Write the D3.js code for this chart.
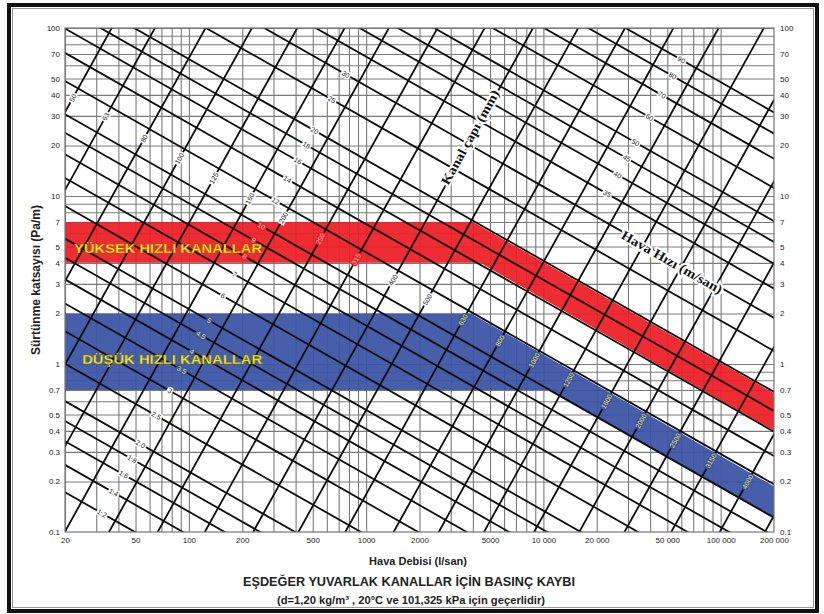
<!DOCTYPE html>
<html><head><meta charset="utf-8">
<script src="https://cdn.jsdelivr.net/npm/d3@7"></script>
<style>body{margin:0;background:#fff}svg{display:block}</style>
</head><body><svg id="c" width="824" height="614"></svg>
<script>
// ---------- DATA ----------
const xTicks = [20,50,100,200,500,1000,2000,5000,10000,20000,50000,100000,200000];
const xTickLabels = ["20","50","100","200","500","1000","2000","5000","10 000","20 000","50 000","100 000","200 000"];
const yTicks = [100,70,50,40,30,20,10,7,5,4,3,2,1,0.7,0.5,0.4,0.3,0.2,0.1];
const yTickLabels = ["100","70","50","40","30","20","10","7","5","4","3","2","1","0.7","0.5","0.4","0.3","0.2","0.1"];

// Duct diameter lines (mm): flow (l/s) where each line crosses 1 Pa/m; slope of the family on log-log
const diameters  = [50, 63, 80, 100, 125, 160, 200, 250, 315, 400, 500, 630, 800, 1000, 1250, 1600, 2000, 2500, 3150, 4000, 5000];
const diameterQ1 = [3.25, 5.7, 11.0, 20.1, 36.2, 67, 119, 224, 413, 774, 1393, 2560, 4800, 8630, 15530, 29740, 53520, 96290, 176900, 331700, 596800];
const diameterSlope = 1.9;

// Air velocity lines (m/s): friction (Pa/m) where each line crosses 1000 l/s; slope of the family on log-log
const velocities = [1.2, 1.4, 1.6, 1.8, 2.0, 2.5, 3, 3.5, 4, 4.5, 5, 6, 7, 8, 9, 10, 12, 14, 16, 18, 20, 25, 30, 35, 40, 45, 50, 60, 70, 80, 90];
const velocityLabels = ["1.2","1.4","1.6","1.8","2.0","2.5","3","3.5","4","4.5","5","6","7","8","9","10","12","14","16","18","20","25","30","35","40","45","50","60","70","80","90"];
const velocityP1000 = [0.0165, 0.0240, 0.0332, 0.0438, 0.0575, 0.096, 0.150, 0.219, 0.305, 0.410, 0.533, 0.833, 1.225, 1.694, 2.273, 2.93, 4.62, 6.80, 9.49, 12.61, 16.4, 28.7, 45.2, 67.5, 95, 128, 170, 268, 400, 565, 755];
const velocitySlope = -0.6;

// where the value labels of each family sit
const velocityLabelDiaQ1Low = 95;     // V <= 30 labels along this diameter path
const velocityLabelDiaQ1High = 6700;  // V >= 35 labels
const diameterLabelP1000 = 3.9;       // diameter labels along this velocity path

// Design bands [flow l/s, friction Pa/m]
const highBand = [[20,7],[4000,7],[200000,0.67],[200000,0.40],[4400,4],[20,4]];
const lowBand  = [[20,2],[3900,2],[200000,0.187],[200000,0.12],[10500,0.7],[20,0.7]];
const highBandText = {text:"YÜKSEK HIZLI KANALLAR", q:22.5, p:4.9};
const lowBandText  = {text:"DÜŞÜK HIZLI KANALLAR", q:25, p:1.06};
const diaTitle = {text:"Kanal çapı (mm)", q:3855, p:22.4};
const velTitle = {text:"Hava Hızı (m/san)", q:53140, p:4.05};

// ---------- CHART ----------
const svg = d3.select("#c");
const W = 824, H = 614;
const m = {l:65, r:774, t:28, b:532};
const x = d3.scaleLog().domain([20,200000]).range([m.l,m.r]);
const y = d3.scaleLog().domain([0.1,100]).range([m.b,m.t]);
const pw = m.r-m.l, ph = m.b-m.t;

svg.append("rect").attr("width",W).attr("height",H).attr("fill","#fff");
svg.append("defs").append("clipPath").attr("id","clip")
  .append("rect").attr("x",m.l).attr("y",m.t).attr("width",pw).attr("height",ph);

const plot = svg.append("g").attr("clip-path","url(#clip)");

// grid
const gx = plot.append("g").attr("transform",`translate(0,${m.b})`)
  .call(d3.axisBottom(x).tickValues(x.ticks()).tickSize(-ph).tickFormat(""));
const gy = plot.append("g").attr("transform",`translate(${m.l},0)`)
  .call(d3.axisLeft(y).tickValues(y.ticks()).tickSize(-pw).tickFormat(""));
[gx,gy].forEach(g=>{
  g.select(".domain").remove();
  g.selectAll(".tick line").attr("stroke","#7a7a7a").attr("stroke-width",1.1);
});

// bands
const bandLine = d3.line().x(d=>x(d[0])).y(d=>y(d[1]));
plot.append("path").attr("d",bandLine(highBand)+"Z").attr("fill","#ec1c24").attr("opacity",0.93);
plot.append("path").attr("d",bandLine(lowBand)+"Z").attr("fill","#3953a4").attr("opacity",0.93);
const highPx = highBand.map(d=>[x(d[0]),y(d[1])]);
const lowPx = lowBand.map(d=>[x(d[0]),y(d[1])]);

// diameter lines
const lineGen = d3.line().x(d=>x(d[0])).y(d=>y(d[1]));
const dQ = (q1,p)=> q1*Math.pow(p,1/diameterSlope);
plot.append("g").selectAll("path").data(diameters).join("path")
  .attr("d",(d,i)=>lineGen([[dQ(diameterQ1[i],0.05),0.05],[dQ(diameterQ1[i],200),200]]))
  .attr("stroke","#0d0d0d").attr("stroke-width",1.8).attr("fill","none");

// velocity lines
const vP = (p1,q)=> p1*Math.pow(q/1000,velocitySlope);
plot.append("g").selectAll("path").data(velocities).join("path")
  .attr("d",(d,i)=>lineGen([[5,vP(velocityP1000[i],5)],[1e6,vP(velocityP1000[i],1e6)]]))
  .attr("stroke","#0d0d0d").attr("stroke-width",1.8).attr("fill","none");

// intersections for labels
function meet(p1000,q1){
  const lq = (Math.log10(p1000) - velocitySlope*3 + diameterSlope*Math.log10(q1))/(diameterSlope - velocitySlope);
  const q = Math.pow(10,lq);
  return [q, Math.pow(q/q1,diameterSlope)];
}
const angV = Math.atan(-velocitySlope*(ph/3)/(pw/4))*180/Math.PI;
const angD = -Math.atan(diameterSlope*(ph/3)/(pw/4))*180/Math.PI;

function styleFor(px,py){
  if (d3.polygonContains(lowPx,[px,py])) return {fill:"#f2e34a",halo:"#3953a4"};
  if (d3.polygonContains(highPx,[px,py])) return {fill:"#f0d0c0",halo:"#ec1c24"};
  return {fill:"#222",halo:"#fff"};
}
const labels = plot.append("g").attr("font-family","Liberation Sans, Arial, sans-serif").attr("font-size",7);
function addLabel(q,p,txt,ang){
  const px=x(q), py=y(p);
  if (px<m.l+3||px>m.r-3||py<m.t+3||py>m.b-3) return;
  const s = styleFor(px,py);
  labels.append("text").attr("transform",`translate(${px},${py}) rotate(${ang})`)
    .attr("text-anchor","middle").attr("dy","0.35em")
    .attr("fill",s.fill).attr("stroke",s.halo).attr("stroke-width",3)
    .attr("paint-order","stroke").text(txt);
}
velocities.forEach((v,i)=>{
  const q1 = v<=30 ? velocityLabelDiaQ1Low : velocityLabelDiaQ1High;
  const [q,p] = meet(velocityP1000[i],q1);
  addLabel(q,p,velocityLabels[i],angV);
});
diameters.forEach((d,i)=>{
  const [q,p] = meet(diameterLabelP1000,diameterQ1[i]);
  addLabel(q,p,String(d),angD);
});

// family titles
function bigLabel(o,ang,len){
  svg.append("text").attr("transform",`translate(${x(o.q)},${y(o.p)}) rotate(${ang})`)
    .attr("text-anchor","middle").attr("dy","0.35em")
    .attr("font-family","Liberation Serif, Times New Roman, serif").attr("font-weight","bold")
    .attr("font-size",13).attr("fill","#111").attr("stroke","#fff").attr("stroke-width",4)
    .attr("paint-order","stroke").attr("textLength",len).attr("lengthAdjust","spacingAndGlyphs")
    .text(o.text);
}
bigLabel(diaTitle,angD,106);
bigLabel(velTitle,angV,114);

// band texts
[[highBandText,188],[lowBandText,180]].forEach(([o,len])=>{
  svg.append("text").attr("x",x(o.q)).attr("y",y(o.p)).attr("dy","0.35em")
    .attr("font-family","Liberation Sans, Arial, sans-serif").attr("font-weight","bold")
    .attr("font-size",13.5).attr("fill","#f5e61c").attr("stroke","#7a6a10").attr("stroke-width",0.3)
    .attr("textLength",len).attr("lengthAdjust","spacingAndGlyphs").text(o.text);
});

// plot frame
svg.append("rect").attr("x",m.l).attr("y",m.t).attr("width",pw).attr("height",ph)
  .attr("fill","none").attr("stroke","#777").attr("stroke-width",1.2);

// axes tick labels
const tickFont = g=>{
  g.select(".domain").remove();
  g.selectAll("text").attr("font-family","Liberation Sans Narrow, Arial Narrow, Liberation Sans, Arial, sans-serif")
   .attr("font-size",8).attr("fill","#222");
};
svg.append("g").attr("transform",`translate(${m.l-1},0)`)
  .call(d3.axisLeft(y).tickValues(yTicks).tickSize(0).tickPadding(4).tickFormat((d,i)=>yTickLabels[i])).call(tickFont);
svg.append("g").attr("transform",`translate(${m.r+1},0)`)
  .call(d3.axisRight(y).tickValues(yTicks).tickSize(0).tickPadding(5).tickFormat((d,i)=>yTickLabels[i])).call(tickFont);
svg.append("g").attr("transform",`translate(0,${m.b})`)
  .call(d3.axisBottom(x).tickValues(xTicks).tickSize(0).tickPadding(5).tickFormat((d,i)=>xTickLabels[i])).call(tickFont);

// axis titles
svg.append("text").attr("transform","translate(40,280) rotate(-90)").attr("text-anchor","middle")
  .attr("font-family","Liberation Sans, Arial, sans-serif").attr("font-weight","bold")
  .attr("font-size",12).attr("fill","#222").text("Sürtünme katsayısı (Pa/m)");
svg.append("text").attr("x",418).attr("y",565).attr("text-anchor","middle")
  .attr("font-family","Liberation Sans, Arial, sans-serif").attr("font-weight","bold")
  .attr("font-size",11).attr("fill","#222").text("Hava Debisi (l/san)");
svg.append("text").attr("x",409).attr("y",586).attr("text-anchor","middle")
  .attr("font-family","Liberation Sans, Arial, sans-serif").attr("font-weight","bold")
  .attr("font-size",12).attr("fill","#222").attr("textLength",332).attr("lengthAdjust","spacingAndGlyphs")
  .text("EŞDEĞER YUVARLAK KANALLAR İÇİN BASINÇ KAYBI");
svg.append("text").attr("x",411).attr("y",604).attr("text-anchor","middle")
  .attr("font-family","Liberation Sans, Arial, sans-serif").attr("font-weight","bold")
  .attr("font-size",11).attr("fill","#222").attr("textLength",268).attr("lengthAdjust","spacingAndGlyphs")
  .text("(d=1,20 kg/m³ , 20°C ve 101,325 kPa için geçerlidir)");

// outer frame
svg.append("rect").attr("x",9).attr("y",5).attr("width",808).attr("height",606)
  .attr("fill","none").attr("stroke","#111").attr("stroke-width",4);
svg.append("rect").attr("x",12.5).attr("y",8.5).attr("width",801).attr("height",599)
  .attr("fill","none").attr("stroke","#999").attr("stroke-width",1);
</script></body></html>
